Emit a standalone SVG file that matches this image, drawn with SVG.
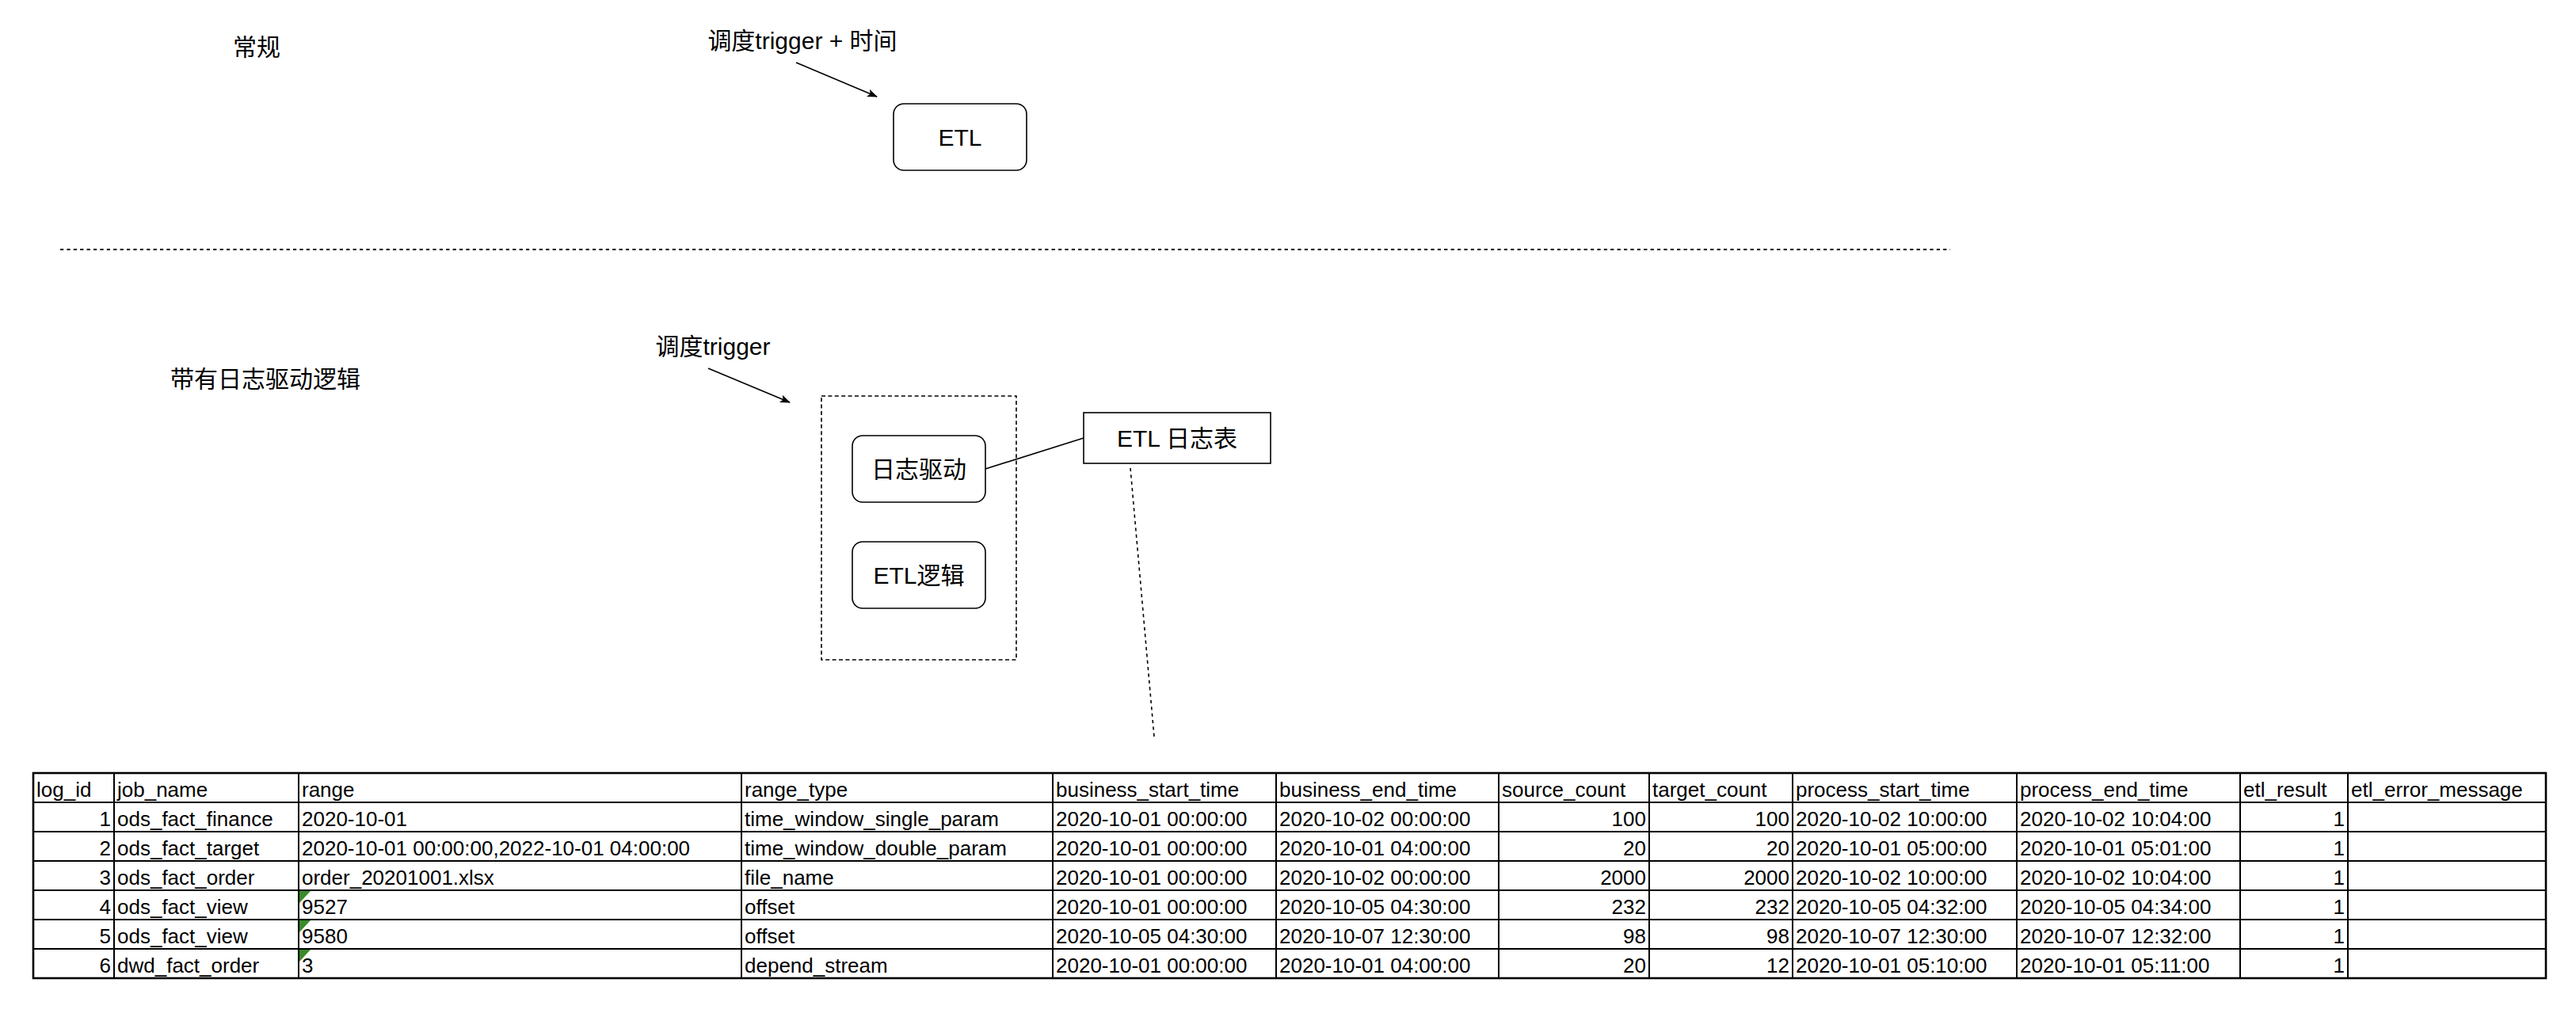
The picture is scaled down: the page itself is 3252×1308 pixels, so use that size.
<svg xmlns="http://www.w3.org/2000/svg" width="3252" height="1308" viewBox="0 0 3252 1308">
<style>
.lbl{font-family:"Liberation Sans","Noto Sans CJK SC",sans-serif;font-size:30px;fill:#000;text-anchor:middle}
.box{fill:#fff;stroke:#000;stroke-width:1.6}
.dash{fill:none;stroke:#000;stroke-width:1.6;stroke-dasharray:5 3.4}
.conn{fill:none;stroke:#000;stroke-width:1.6}
.cl{font-family:"Liberation Sans","Noto Sans CJK SC",sans-serif;font-size:26px;fill:#000}
.cr{font-family:"Liberation Sans","Noto Sans CJK SC",sans-serif;font-size:26px;fill:#000;text-anchor:end}
.grid{stroke:#000;stroke-width:2;fill:none}
.tri{fill:#3b8a2b}
</style>
<defs>
<marker id="arrow" markerUnits="userSpaceOnUse" viewBox="0 0 13 10" refX="12" refY="5" markerWidth="13" markerHeight="10" orient="auto">
<path d="M0,0 L13,5 L0,10 L3,5 Z" fill="#000"/>
</marker>
</defs>
<rect width="3252" height="1308" fill="#fff"/>

<g id="label-regular"><text class="lbl" x="324" y="70">常规</text></g>
<g id="label-trigger-time"><text class="lbl" x="1013" y="62">调度trigger + 时间</text></g>
<g id="node-etl">
<rect class="box" x="1128" y="131" width="168" height="84" rx="13"/>
<text class="lbl" x="1212" y="184">ETL</text>
</g>
<g id="separator"><line x1="76" y1="315" x2="2462" y2="315" stroke="#000" stroke-width="2" stroke-dasharray="4.2 4.2"/></g>

<g id="label-log-driven"><text class="lbl" x="335" y="489">带有日志驱动逻辑</text></g>
<g id="label-trigger"><text class="lbl" x="900" y="448">调度trigger</text></g>
<g id="container"><rect class="dash" x="1037" y="500" width="246" height="333"/></g>
<g id="node-log-driver">
<rect class="box" x="1076" y="550" width="168" height="84" rx="13"/>
<text class="lbl" x="1160" y="603">日志驱动</text>
</g>
<g id="node-etl-logic">
<rect class="box" x="1076" y="684" width="168" height="84" rx="13"/>
<text class="lbl" x="1160" y="737">ETL逻辑</text>
</g>
<g id="node-etl-log-table">
<rect class="box" x="1368" y="521" width="236" height="64"/>
<text class="lbl" x="1486" y="564">ETL 日志表</text>
</g>

<g id="connectors">
<line class="conn" x1="1005" y1="79" x2="1107" y2="122" marker-end="url(#arrow)"/>
<line class="conn" x1="894" y1="465" x2="997" y2="508" marker-end="url(#arrow)"/>
<line class="conn" x1="1244" y1="592" x2="1368" y2="553"/>
<line class="conn" x1="1427" y1="591" x2="1457" y2="930" stroke-width="2" stroke-dasharray="4.2 4.2"/>
</g>

<g id="log-table">
<rect x="42" y="976" width="3172" height="259" fill="#fff" stroke="#000" stroke-width="2.6"/>
<g class="grid">
<line x1="42" y1="1013" x2="3214" y2="1013"/>
<line x1="42" y1="1050" x2="3214" y2="1050"/>
<line x1="42" y1="1087" x2="3214" y2="1087"/>
<line x1="42" y1="1124" x2="3214" y2="1124"/>
<line x1="42" y1="1161" x2="3214" y2="1161"/>
<line x1="42" y1="1198" x2="3214" y2="1198"/>
<line x1="144" y1="976" x2="144" y2="1235"/>
<line x1="377" y1="976" x2="377" y2="1235"/>
<line x1="936" y1="976" x2="936" y2="1235"/>
<line x1="1329" y1="976" x2="1329" y2="1235"/>
<line x1="1611" y1="976" x2="1611" y2="1235"/>
<line x1="1892" y1="976" x2="1892" y2="1235"/>
<line x1="2082" y1="976" x2="2082" y2="1235"/>
<line x1="2263" y1="976" x2="2263" y2="1235"/>
<line x1="2546" y1="976" x2="2546" y2="1235"/>
<line x1="2828" y1="976" x2="2828" y2="1235"/>
<line x1="2964" y1="976" x2="2964" y2="1235"/>
</g>
<path class="tri" d="M378,1125 L392,1125 L378,1140 Z"/>
<path class="tri" d="M378,1162 L392,1162 L378,1177 Z"/>
<path class="tri" d="M378,1199 L392,1199 L378,1214 Z"/>
<g id="row-header">
<text class="cl" x="46" y="1006">log_id</text>
<text class="cl" x="148" y="1006">job_name</text>
<text class="cl" x="381" y="1006">range</text>
<text class="cl" x="940" y="1006">range_type</text>
<text class="cl" x="1333" y="1006">business_start_time</text>
<text class="cl" x="1615" y="1006">business_end_time</text>
<text class="cl" x="1896" y="1006">source_count</text>
<text class="cl" x="2086" y="1006">target_count</text>
<text class="cl" x="2267" y="1006">process_start_time</text>
<text class="cl" x="2550" y="1006">process_end_time</text>
<text class="cl" x="2832" y="1006">etl_result</text>
<text class="cl" x="2968" y="1006">etl_error_message</text>
</g>
<g id="row-1">
<text class="cr" x="140" y="1043">1</text>
<text class="cl" x="148" y="1043">ods_fact_finance</text>
<text class="cl" x="381" y="1043">2020-10-01</text>
<text class="cl" x="940" y="1043">time_window_single_param</text>
<text class="cl" x="1333" y="1043">2020-10-01 00:00:00</text>
<text class="cl" x="1615" y="1043">2020-10-02 00:00:00</text>
<text class="cr" x="2078" y="1043">100</text>
<text class="cr" x="2259" y="1043">100</text>
<text class="cl" x="2267" y="1043">2020-10-02 10:00:00</text>
<text class="cl" x="2550" y="1043">2020-10-02 10:04:00</text>
<text class="cr" x="2960" y="1043">1</text>
</g>
<g id="row-2">
<text class="cr" x="140" y="1080">2</text>
<text class="cl" x="148" y="1080">ods_fact_target</text>
<text class="cl" x="381" y="1080">2020-10-01 00:00:00,2022-10-01 04:00:00</text>
<text class="cl" x="940" y="1080">time_window_double_param</text>
<text class="cl" x="1333" y="1080">2020-10-01 00:00:00</text>
<text class="cl" x="1615" y="1080">2020-10-01 04:00:00</text>
<text class="cr" x="2078" y="1080">20</text>
<text class="cr" x="2259" y="1080">20</text>
<text class="cl" x="2267" y="1080">2020-10-01 05:00:00</text>
<text class="cl" x="2550" y="1080">2020-10-01 05:01:00</text>
<text class="cr" x="2960" y="1080">1</text>
</g>
<g id="row-3">
<text class="cr" x="140" y="1117">3</text>
<text class="cl" x="148" y="1117">ods_fact_order</text>
<text class="cl" x="381" y="1117">order_20201001.xlsx</text>
<text class="cl" x="940" y="1117">file_name</text>
<text class="cl" x="1333" y="1117">2020-10-01 00:00:00</text>
<text class="cl" x="1615" y="1117">2020-10-02 00:00:00</text>
<text class="cr" x="2078" y="1117">2000</text>
<text class="cr" x="2259" y="1117">2000</text>
<text class="cl" x="2267" y="1117">2020-10-02 10:00:00</text>
<text class="cl" x="2550" y="1117">2020-10-02 10:04:00</text>
<text class="cr" x="2960" y="1117">1</text>
</g>
<g id="row-4">
<text class="cr" x="140" y="1154">4</text>
<text class="cl" x="148" y="1154">ods_fact_view</text>
<text class="cl" x="381" y="1154">9527</text>
<text class="cl" x="940" y="1154">offset</text>
<text class="cl" x="1333" y="1154">2020-10-01 00:00:00</text>
<text class="cl" x="1615" y="1154">2020-10-05 04:30:00</text>
<text class="cr" x="2078" y="1154">232</text>
<text class="cr" x="2259" y="1154">232</text>
<text class="cl" x="2267" y="1154">2020-10-05 04:32:00</text>
<text class="cl" x="2550" y="1154">2020-10-05 04:34:00</text>
<text class="cr" x="2960" y="1154">1</text>
</g>
<g id="row-5">
<text class="cr" x="140" y="1191">5</text>
<text class="cl" x="148" y="1191">ods_fact_view</text>
<text class="cl" x="381" y="1191">9580</text>
<text class="cl" x="940" y="1191">offset</text>
<text class="cl" x="1333" y="1191">2020-10-05 04:30:00</text>
<text class="cl" x="1615" y="1191">2020-10-07 12:30:00</text>
<text class="cr" x="2078" y="1191">98</text>
<text class="cr" x="2259" y="1191">98</text>
<text class="cl" x="2267" y="1191">2020-10-07 12:30:00</text>
<text class="cl" x="2550" y="1191">2020-10-07 12:32:00</text>
<text class="cr" x="2960" y="1191">1</text>
</g>
<g id="row-6">
<text class="cr" x="140" y="1228">6</text>
<text class="cl" x="148" y="1228">dwd_fact_order</text>
<text class="cl" x="381" y="1228">3</text>
<text class="cl" x="940" y="1228">depend_stream</text>
<text class="cl" x="1333" y="1228">2020-10-01 00:00:00</text>
<text class="cl" x="1615" y="1228">2020-10-01 04:00:00</text>
<text class="cr" x="2078" y="1228">20</text>
<text class="cr" x="2259" y="1228">12</text>
<text class="cl" x="2267" y="1228">2020-10-01 05:10:00</text>
<text class="cl" x="2550" y="1228">2020-10-01 05:11:00</text>
<text class="cr" x="2960" y="1228">1</text>
</g>
</g>
</svg>
